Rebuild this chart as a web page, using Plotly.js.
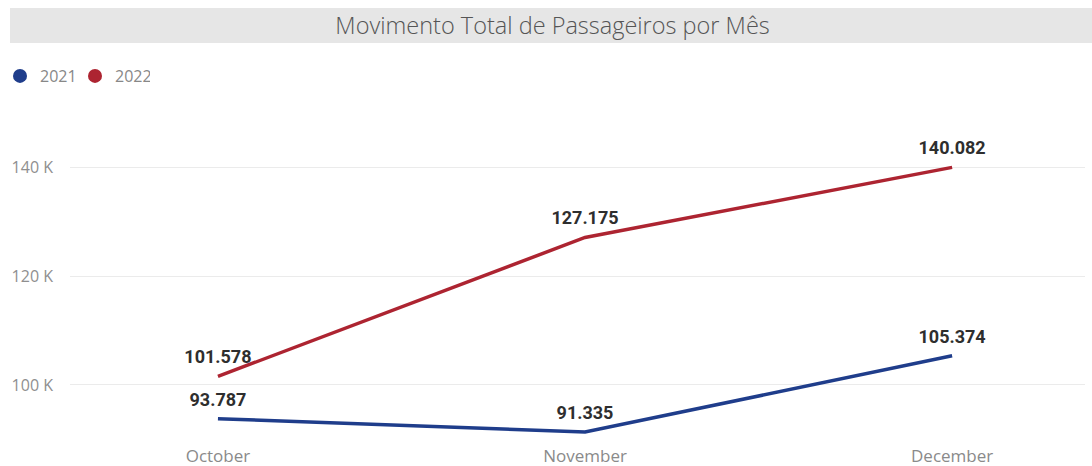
<!DOCTYPE html>
<html><head><meta charset="utf-8">
<script src="https://cdn.plot.ly/plotly-3.0.1.min.js"></script>
<style>html,body{margin:0;padding:0;background:#fff}#c{width:1092px;height:466px}</style>
</head><body><div id="c"></div>
<script>
const months = ["October", "November", "December"];
const series2021 = [93787, 91335, 105374];
const series2022 = [101578, 127175, 140082];
const labels2021 = ["93.787", "91.335", "105.374"];
const labels2022 = ["101.578", "127.175", "140.082"];
const yTickVals = [100000, 120000, 140000];
const yTickText = ["100 K", "120 K", "140 K"];
const c2021 = "#1f3d8b", c2022 = "#ad2431";
const labelFont = {family: "Roboto, DejaVu Sans", size: 18, color: "#2e2e2e", weight: "bold"};

const traces = [
  {x: months, y: series2021, text: labels2021, mode: "lines+markers+text", textposition: "top center",
   line: {color: c2021, width: 3.5}, marker: {size: 12, opacity: 0, color: c2021},
   textfont: labelFont, showlegend: false, cliponaxis: false, hoverinfo: "x+y"},
  {x: months, y: series2022, text: labels2022, mode: "lines+markers+text", textposition: "top center",
   line: {color: c2022, width: 3.5}, marker: {size: 12, opacity: 0, color: c2022},
   textfont: labelFont, showlegend: false, cliponaxis: false, hoverinfo: "x+y"},
  {x: [null], y: [null], mode: "markers", name: "2021", marker: {color: c2021, size: 14, symbol: "circle"}},
  {x: [null], y: [null], mode: "markers", name: "2022", marker: {color: c2022, size: 14, symbol: "circle"}}
];

const layout = {
  width: 1092, height: 466,
  margin: {l: 70, r: 7, t: 100, b: 26},
  paper_bgcolor: "#fff", plot_bgcolor: "#fff",
  font: {family: "Open Sans, DejaVu Sans", color: "#888"},
  title: {text: "Movimento Total de Passageiros por Mês", xref: "container", yref: "container",
          x: 0.506, y: 1 - 26/466, xanchor: "center", yanchor: "middle",
          font: {family: "Open Sans, DejaVu Sans", size: 23.5, color: "#555", weight: 300}},
  shapes: [{type: "rect", xref: "paper", yref: "paper", x0: -0.0591, x1: 1.0069, y0: 1.1676, y1: 1.2706,
            fillcolor: "#e6e6e6", line: {width: 0}, layer: "below"}],
  showlegend: true,
  legend: {orientation: "h", xref: "container", yref: "container", x: 0, y: 1 - 59/466,
           xanchor: "left", yanchor: "top", font: {size: 16, color: "#888"}, itemwidth: 30,
           entrywidth: 30, tracegroupgap: 0, bgcolor: "rgba(0,0,0,0)"},
  xaxis: {type: "category", range: [-0.403, 2.362], showgrid: false, zeroline: false, showline: false,
          tickfont: {size: 17, color: "#8a8a8a"}, ticklabelstandoff: 4, fixedrange: true},
  yaxis: {range: [89860, 152500], tickvals: yTickVals, ticktext: yTickText, showgrid: true,
          gridcolor: "#ebebeb", gridwidth: 1, zeroline: false, showline: false,
          tickfont: {size: 16, color: "#8f8f8f"}, ticklabelstandoff: 16, fixedrange: true}
};
Plotly.newPlot("c", traces, layout, {displayModeBar: false, staticPlot: true});
</script></body></html>
